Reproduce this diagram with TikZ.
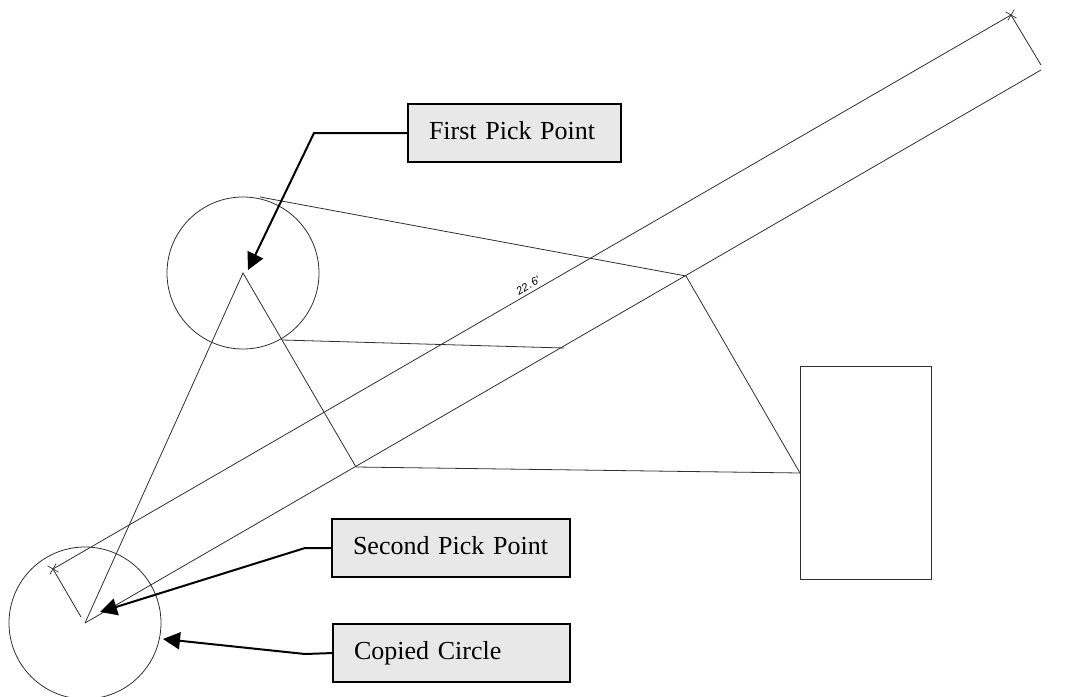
\documentclass[tikz,border=0pt]{standalone}
\usepackage{fontspec}
\setmainfont{Liberation Serif}
\newfontfamily\dimfont{Liberation Sans}
\usetikzlibrary{positioning,arrows.meta,shapes.misc}
\definecolor{boxgray}{HTML}{E8E8E8}
\definecolor{cadline}{HTML}{303030}
\tikzset{
  cad/.style={draw=cadline,line width=0.8pt},
  pickcircle/.style={cad,circle,minimum size=152pt,inner sep=0pt,outer sep=0pt},
  blockrect/.style={cad,rectangle,minimum width=131pt,minimum height=213pt,inner sep=0pt,outer sep=0pt},
  dimtick/.style={cross out,draw=cadline,line width=0.7pt,minimum size=9pt,inner sep=0pt,outer sep=0pt,rotate=15},
  labelbox/.style={draw=black,line width=2pt,fill=boxgray,rectangle,minimum height=58pt,text height=21pt,text depth=8pt,inner xsep=21pt,inner ysep=0pt,outer sep=0pt,align=left,font=\fontsize{26pt}{30pt}\selectfont},
  leader/.style={draw=black,line width=2pt,-{Triangle[length=17pt,width=17pt]}}
}
\begin{document}
\begin{tikzpicture}[x=1pt,y=-1pt]
\useasboundingbox (0,0) rectangle (1086,696);
\coordinate (firstpick) at (243,273);
\coordinate (secondpick) at (85,623);
\coordinate (elbow) at (356,467);
\coordinate (corner) at (686,276);
\coordinate (blockhit) at (800,473);
\coordinate (tangenttop) at (260,197);
\coordinate (tangentlow) at (282,340);
\coordinate (tangentend) at (564,348);
\coordinate (dimstart) at (81,617);
\coordinate (dimend) at (1041,65);
\coordinate (farline) at (1041,70);
\node[pickcircle] (circleone) at (firstpick) {};
\node[pickcircle] (circletwo) at (secondpick) {};
\node[blockrect] (block) at (865.5,472.5) {};
\node[dimtick] (tickone) at (53,569) {};
\node[dimtick] (ticktwo) at (1011,15) {};
% construction lines
\draw[cad] (secondpick) -- (firstpick) -- (elbow) -- (blockhit);
\draw[cad] (tangenttop) -- (corner) -- (blockhit);
\draw[cad] (tangentlow) -- (tangentend);
\draw[cad] (secondpick) -- (farline);
\draw[cad] (tickone.center) -- (ticktwo.center);
\draw[cad] (tickone.center) -- (dimstart);
\draw[cad] (ticktwo.center) -- (dimend);
\node[rotate=32,font=\dimfont\itshape\fontsize{11pt}{11pt}\selectfont,inner sep=0pt] (dimtext) at (528,286) {22\kern1pt.\kern1pt6'};
% callouts
\node[labelbox,text width=171pt] (firstbox) at (514.5,133) {First Pick Point};
\node[labelbox,text width=196pt] (secondbox) at (451,548) {Second Pick Point};
\node[labelbox,text width=195pt] (copybox) at (451.5,653) {Copied Circle};
\coordinate (firsttip) at (248,270);
\coordinate (secondtip) at (100,612);
\coordinate (copytip) at (163,639);
\draw[leader] (firstbox.west) -- (314,133) -- (firsttip);
\draw[leader] (secondbox.west) -- (305,548) -- (secondtip);
\draw[leader] (copybox.west) -- (305,654) -- (copytip);
\end{tikzpicture}
\end{document}
